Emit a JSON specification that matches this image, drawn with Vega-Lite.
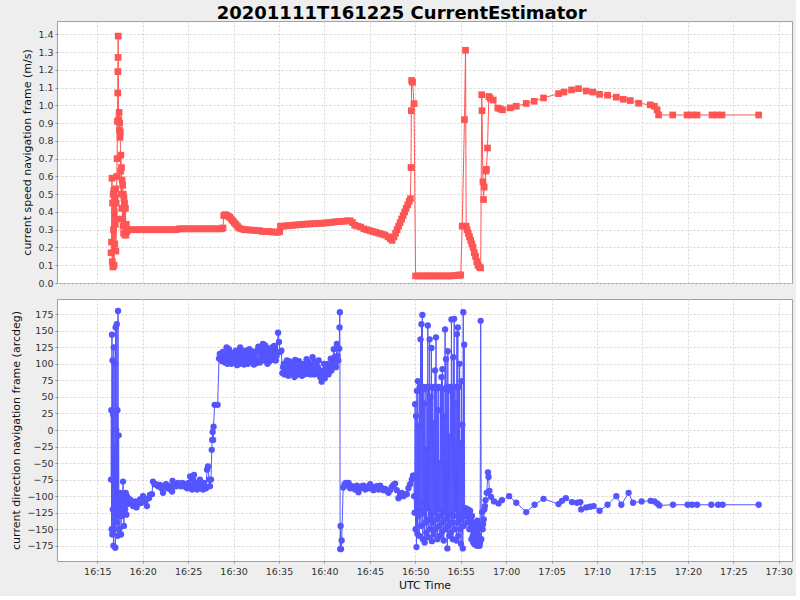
{
  "$schema": "https://vega.github.io/schema/vega-lite/v6.json",
  "title": {"text": "20201111T161225 CurrentEstimator", "font": "DejaVu Sans", "fontSize": 18, "fontWeight": "bold", "color": "black", "anchor": "middle", "offset": -2},
  "background": "#eeeeee",
  "padding": {"left": 10, "right": 3, "top": 4, "bottom": 5},
  "spacing": 10,
  "vconcat": [
    {
      "width": 735,
      "height": 262,
      "data": {
        "format": {"parse": {"t": "utc:'%H:%M:%S'"}},
        "values": [
          {"t": "16:16:31", "v": 0.17}, {"t": "16:16:34", "v": 0.23}, {"t": "16:16:37", "v": 0.59}, {"t": "16:16:39", "v": 0.12},
          {"t": "16:16:41", "v": 0.45}, {"t": "16:16:43", "v": 0.09}, {"t": "16:16:45", "v": 0.50}, {"t": "16:16:47", "v": 0.30},
          {"t": "16:16:49", "v": 0.52}, {"t": "16:16:51", "v": 0.10}, {"t": "16:16:53", "v": 0.40}, {"t": "16:16:55", "v": 0.22},
          {"t": "16:16:57", "v": 0.48}, {"t": "16:16:59", "v": 0.33}, {"t": "16:17:01", "v": 0.53}, {"t": "16:17:03", "v": 0.18},
          {"t": "16:17:05", "v": 0.45}, {"t": "16:17:07", "v": 0.36}, {"t": "16:17:09", "v": 0.60}, {"t": "16:17:11", "v": 0.70},
          {"t": "16:17:13", "v": 0.91}, {"t": "16:17:15", "v": 1.07}, {"t": "16:17:16", "v": 1.19}, {"t": "16:17:17", "v": 1.27},
          {"t": "16:17:18", "v": 1.39}, {"t": "16:17:21", "v": 0.92}, {"t": "16:17:24", "v": 0.96}, {"t": "16:17:26", "v": 0.86},
          {"t": "16:17:28", "v": 0.90}, {"t": "16:17:30", "v": 0.82}, {"t": "16:17:32", "v": 0.85}, {"t": "16:17:34", "v": 0.63},
          {"t": "16:17:36", "v": 0.72}, {"t": "16:17:38", "v": 0.50}, {"t": "16:17:40", "v": 0.65}, {"t": "16:17:42", "v": 0.42},
          {"t": "16:17:44", "v": 0.58}, {"t": "16:17:46", "v": 0.36}, {"t": "16:17:48", "v": 0.55}, {"t": "16:17:50", "v": 0.32},
          {"t": "16:17:52", "v": 0.50}, {"t": "16:17:54", "v": 0.28}, {"t": "16:17:56", "v": 0.48}, {"t": "16:17:58", "v": 0.33},
          {"t": "16:18:00", "v": 0.45}, {"t": "16:18:03", "v": 0.27}, {"t": "16:18:06", "v": 0.42}, {"t": "16:18:09", "v": 0.27},
          {"t": "16:18:12", "v": 0.33}, {"t": "16:18:16", "v": 0.29}, {"t": "16:18:22", "v": 0.30},
          {"t": "16:18:40", "v": 0.30}, {"t": "16:19:00", "v": 0.30}, {"t": "16:19:20", "v": 0.30}, {"t": "16:19:40", "v": 0.30},
          {"t": "16:20:00", "v": 0.30}, {"t": "16:20:20", "v": 0.30}, {"t": "16:20:40", "v": 0.30}, {"t": "16:21:00", "v": 0.30},
          {"t": "16:21:20", "v": 0.30}, {"t": "16:21:40", "v": 0.30}, {"t": "16:22:00", "v": 0.30}, {"t": "16:22:20", "v": 0.30},
          {"t": "16:22:40", "v": 0.30}, {"t": "16:23:00", "v": 0.30}, {"t": "16:23:20", "v": 0.30}, {"t": "16:23:40", "v": 0.30},
          {"t": "16:24:00", "v": 0.305}, {"t": "16:24:20", "v": 0.305}, {"t": "16:24:40", "v": 0.305}, {"t": "16:25:00", "v": 0.305},
          {"t": "16:25:20", "v": 0.305}, {"t": "16:25:40", "v": 0.305}, {"t": "16:26:00", "v": 0.305}, {"t": "16:26:20", "v": 0.305},
          {"t": "16:26:40", "v": 0.305}, {"t": "16:27:00", "v": 0.305}, {"t": "16:27:20", "v": 0.305}, {"t": "16:27:40", "v": 0.305},
          {"t": "16:28:00", "v": 0.305}, {"t": "16:28:20", "v": 0.305}, {"t": "16:28:40", "v": 0.305}, {"t": "16:28:50", "v": 0.31},
          {"t": "16:28:55", "v": 0.38}, {"t": "16:29:05", "v": 0.385}, {"t": "16:29:15", "v": 0.38}, {"t": "16:29:25", "v": 0.375},
          {"t": "16:29:35", "v": 0.37}, {"t": "16:29:45", "v": 0.36}, {"t": "16:29:55", "v": 0.35}, {"t": "16:30:05", "v": 0.34},
          {"t": "16:30:15", "v": 0.33}, {"t": "16:30:25", "v": 0.32}, {"t": "16:30:35", "v": 0.31}, {"t": "16:30:50", "v": 0.305},
          {"t": "16:31:10", "v": 0.30}, {"t": "16:31:30", "v": 0.30}, {"t": "16:31:50", "v": 0.298}, {"t": "16:32:10", "v": 0.297},
          {"t": "16:32:30", "v": 0.295}, {"t": "16:32:50", "v": 0.295}, {"t": "16:33:10", "v": 0.29}, {"t": "16:33:30", "v": 0.29},
          {"t": "16:33:50", "v": 0.29}, {"t": "16:34:10", "v": 0.288}, {"t": "16:34:30", "v": 0.287}, {"t": "16:34:50", "v": 0.285},
          {"t": "16:35:05", "v": 0.29}, {"t": "16:35:10", "v": 0.32}, {"t": "16:35:30", "v": 0.32}, {"t": "16:35:50", "v": 0.322},
          {"t": "16:36:10", "v": 0.324}, {"t": "16:36:30", "v": 0.325}, {"t": "16:36:50", "v": 0.327}, {"t": "16:37:10", "v": 0.328},
          {"t": "16:37:30", "v": 0.33}, {"t": "16:37:50", "v": 0.331}, {"t": "16:38:10", "v": 0.332}, {"t": "16:38:30", "v": 0.333},
          {"t": "16:38:50", "v": 0.334}, {"t": "16:39:10", "v": 0.335}, {"t": "16:39:30", "v": 0.336}, {"t": "16:39:50", "v": 0.337},
          {"t": "16:40:10", "v": 0.338}, {"t": "16:40:30", "v": 0.34}, {"t": "16:40:50", "v": 0.342}, {"t": "16:41:10", "v": 0.344},
          {"t": "16:41:30", "v": 0.346}, {"t": "16:41:50", "v": 0.347}, {"t": "16:42:10", "v": 0.348}, {"t": "16:42:30", "v": 0.35},
          {"t": "16:42:50", "v": 0.35}, {"t": "16:43:05", "v": 0.34}, {"t": "16:43:20", "v": 0.325}, {"t": "16:43:40", "v": 0.32},
          {"t": "16:44:00", "v": 0.315}, {"t": "16:44:20", "v": 0.305}, {"t": "16:44:40", "v": 0.30}, {"t": "16:45:00", "v": 0.295},
          {"t": "16:45:20", "v": 0.29}, {"t": "16:45:40", "v": 0.285}, {"t": "16:46:00", "v": 0.28}, {"t": "16:46:20", "v": 0.275},
          {"t": "16:46:40", "v": 0.27}, {"t": "16:47:00", "v": 0.26}, {"t": "16:47:15", "v": 0.25}, {"t": "16:47:27", "v": 0.24},
          {"t": "16:47:40", "v": 0.26}, {"t": "16:47:50", "v": 0.28}, {"t": "16:48:00", "v": 0.30}, {"t": "16:48:10", "v": 0.32},
          {"t": "16:48:20", "v": 0.34}, {"t": "16:48:30", "v": 0.36}, {"t": "16:48:40", "v": 0.38}, {"t": "16:48:50", "v": 0.40},
          {"t": "16:49:00", "v": 0.42}, {"t": "16:49:10", "v": 0.44}, {"t": "16:49:20", "v": 0.46}, {"t": "16:49:28", "v": 0.475},
          {"t": "16:49:32", "v": 0.65}, {"t": "16:49:34", "v": 0.97}, {"t": "16:49:36", "v": 1.14}, {"t": "16:49:42", "v": 1.13},
          {"t": "16:49:52", "v": 1.01}, {"t": "16:50:02", "v": 0.04}, {"t": "16:50:20", "v": 0.04}, {"t": "16:50:40", "v": 0.04},
          {"t": "16:51:00", "v": 0.04}, {"t": "16:51:20", "v": 0.04}, {"t": "16:51:40", "v": 0.04}, {"t": "16:52:00", "v": 0.04},
          {"t": "16:52:20", "v": 0.04}, {"t": "16:52:40", "v": 0.04}, {"t": "16:53:00", "v": 0.04}, {"t": "16:53:20", "v": 0.04},
          {"t": "16:53:40", "v": 0.04}, {"t": "16:54:00", "v": 0.04}, {"t": "16:54:20", "v": 0.042}, {"t": "16:54:40", "v": 0.043},
          {"t": "16:54:52", "v": 0.045}, {"t": "16:55:00", "v": 0.045}, {"t": "16:55:10", "v": 0.32}, {"t": "16:55:25", "v": 0.92},
          {"t": "16:55:32", "v": 1.31}, {"t": "16:55:36", "v": 0.32}, {"t": "16:55:42", "v": 0.30}, {"t": "16:55:50", "v": 0.28},
          {"t": "16:55:58", "v": 0.26}, {"t": "16:56:06", "v": 0.24}, {"t": "16:56:14", "v": 0.22}, {"t": "16:56:22", "v": 0.20},
          {"t": "16:56:30", "v": 0.17}, {"t": "16:56:38", "v": 0.15}, {"t": "16:56:46", "v": 0.12}, {"t": "16:56:54", "v": 0.10},
          {"t": "16:57:04", "v": 0.09}, {"t": "16:57:12", "v": 0.085}, {"t": "16:57:19", "v": 1.06}, {"t": "16:57:21", "v": 0.97},
          {"t": "16:57:27", "v": 0.57}, {"t": "16:57:31", "v": 0.47}, {"t": "16:57:35", "v": 0.54}, {"t": "16:57:47", "v": 0.63},
          {"t": "16:57:50", "v": 0.64}, {"t": "16:57:57", "v": 0.76}, {"t": "16:58:06", "v": 1.05}, {"t": "16:58:15", "v": 1.04},
          {"t": "16:58:35", "v": 1.03}, {"t": "16:59:05", "v": 0.985}, {"t": "16:59:21", "v": 0.98}, {"t": "16:59:36", "v": 0.975},
          {"t": "17:00:27", "v": 0.986}, {"t": "17:01:07", "v": 0.995}, {"t": "17:02:13", "v": 1.011}, {"t": "17:03:05", "v": 1.023},
          {"t": "17:04:07", "v": 1.042}, {"t": "17:05:46", "v": 1.066}, {"t": "17:06:22", "v": 1.075}, {"t": "17:07:12", "v": 1.087},
          {"t": "17:07:58", "v": 1.094}, {"t": "17:08:49", "v": 1.081}, {"t": "17:09:33", "v": 1.075}, {"t": "17:10:17", "v": 1.062},
          {"t": "17:11:10", "v": 1.057}, {"t": "17:12:08", "v": 1.046}, {"t": "17:12:54", "v": 1.034}, {"t": "17:13:40", "v": 1.027},
          {"t": "17:14:35", "v": 1.012}, {"t": "17:15:52", "v": 1.003}, {"t": "17:16:19", "v": 0.995}, {"t": "17:16:37", "v": 0.975},
          {"t": "17:16:47", "v": 0.946}, {"t": "17:18:20", "v": 0.946}, {"t": "17:19:55", "v": 0.946}, {"t": "17:20:28", "v": 0.946},
          {"t": "17:21:01", "v": 0.946}, {"t": "17:22:40", "v": 0.946}, {"t": "17:23:13", "v": 0.946}, {"t": "17:23:46", "v": 0.946},
          {"t": "17:27:48", "v": 0.946}
        ]
      },
      "mark": {"type": "line", "color": "#ff5555", "strokeWidth": 1, "point": {"shape": "square", "size": 45, "filled": true, "color": "#ff5555", "opacity": 1}},
      "encoding": {
        "x": {
          "field": "t", "type": "temporal",
          "scale": {"type": "utc", "nice": false, "domain": [-2208930566000, -2208925712000]},
          "axis": {"title": null, "labels": false, "ticks": false, "values": [-2208930300000, -2208930000000, -2208929700000, -2208929400000, -2208929100000, -2208928800000, -2208928500000, -2208928200000, -2208927900000, -2208927600000, -2208927300000, -2208927000000, -2208926700000, -2208926400000, -2208926100000, -2208925800000]}
        },
        "y": {
          "field": "v", "type": "quantitative",
          "scale": {"domain": [0, 1.475], "nice": false, "zero": false},
          "axis": {"title": "current speed navigation frame (m/s)", "format": ".1f", "values": [0, 0.1, 0.2, 0.3, 0.4, 0.5, 0.6, 0.7, 0.8, 0.9, 1.0, 1.1, 1.2, 1.3, 1.4]}
        }
      }
    },
    {
      "width": 735,
      "height": 262,
      "data": {
        "format": {"parse": {"t": "utc:'%H:%M:%S'"}},
        "values": [
          {"t": "16:16:31", "v": -75}, {"t": "16:16:33", "v": 30}, {"t": "16:16:35", "v": -150}, {"t": "16:16:37", "v": 144},
          {"t": "16:16:39", "v": -158}, {"t": "16:16:41", "v": 105}, {"t": "16:16:43", "v": -120}, {"t": "16:16:45", "v": 23},
          {"t": "16:16:47", "v": -175}, {"t": "16:16:49", "v": 125}, {"t": "16:16:51", "v": -110}, {"t": "16:16:53", "v": -27},
          {"t": "16:16:55", "v": -150}, {"t": "16:16:57", "v": 100}, {"t": "16:16:59", "v": -178}, {"t": "16:17:01", "v": 155},
          {"t": "16:17:03", "v": -125}, {"t": "16:17:05", "v": 0}, {"t": "16:17:07", "v": -140}, {"t": "16:17:09", "v": 160},
          {"t": "16:17:11", "v": -100}, {"t": "16:17:13", "v": 30}, {"t": "16:17:15", "v": -160}, {"t": "16:17:17", "v": 180},
          {"t": "16:17:19", "v": -130}, {"t": "16:17:21", "v": -8}, {"t": "16:17:23", "v": -115}, {"t": "16:17:25", "v": -150},
          {"t": "16:17:27", "v": -105}, {"t": "16:17:30", "v": -125}, {"t": "16:17:33", "v": -95}, {"t": "16:17:37", "v": -158},
          {"t": "16:17:40", "v": -110}, {"t": "16:17:43", "v": -130}, {"t": "16:17:47", "v": -100}, {"t": "16:17:50", "v": -78},
          {"t": "16:17:53", "v": -115}, {"t": "16:17:56", "v": -145}, {"t": "16:18:00", "v": -105}, {"t": "16:18:04", "v": -120},
          {"t": "16:18:08", "v": -95}, {"t": "16:18:12", "v": -128}, {"t": "16:18:16", "v": -100}, {"t": "16:18:20", "v": -112},
          {"t": "16:18:25", "v": -104}, {"t": "16:18:36", "v": -105}, {"t": "16:18:46", "v": -110}, {"t": "16:18:56", "v": -115},
          {"t": "16:19:09", "v": -108}, {"t": "16:19:19", "v": -117}, {"t": "16:19:29", "v": -112}, {"t": "16:19:42", "v": -105},
          {"t": "16:19:52", "v": -110}, {"t": "16:20:02", "v": -100}, {"t": "16:20:15", "v": -108}, {"t": "16:20:28", "v": -115},
          {"t": "16:20:41", "v": -103}, {"t": "16:20:48", "v": -98}, {"t": "16:21:01", "v": -97}, {"t": "16:21:08", "v": -78},
          {"t": "16:21:18", "v": -82}, {"t": "16:21:28", "v": -82}, {"t": "16:21:41", "v": -85}, {"t": "16:21:54", "v": -83},
          {"t": "16:22:04", "v": -88}, {"t": "16:22:14", "v": -95}, {"t": "16:22:24", "v": -85}, {"t": "16:22:34", "v": -82},
          {"t": "16:22:44", "v": -88}, {"t": "16:22:54", "v": -85}, {"t": "16:23:04", "v": -90}, {"t": "16:23:14", "v": -93},
          {"t": "16:23:17", "v": -77}, {"t": "16:23:25", "v": -85}, {"t": "16:23:33", "v": -82}, {"t": "16:23:43", "v": -85},
          {"t": "16:23:53", "v": -80}, {"t": "16:24:03", "v": -83}, {"t": "16:24:13", "v": -85}, {"t": "16:24:23", "v": -80},
          {"t": "16:24:33", "v": -82}, {"t": "16:24:43", "v": -86}, {"t": "16:24:53", "v": -88}, {"t": "16:25:03", "v": -80},
          {"t": "16:25:13", "v": -70}, {"t": "16:25:20", "v": -85}, {"t": "16:25:26", "v": -90}, {"t": "16:25:33", "v": -75},
          {"t": "16:25:39", "v": -68}, {"t": "16:25:46", "v": -85}, {"t": "16:25:52", "v": -80}, {"t": "16:25:59", "v": -90},
          {"t": "16:26:05", "v": -88}, {"t": "16:26:12", "v": -80}, {"t": "16:26:18", "v": -75}, {"t": "16:26:25", "v": -88},
          {"t": "16:26:31", "v": -85}, {"t": "16:26:38", "v": -90}, {"t": "16:26:44", "v": -80}, {"t": "16:26:51", "v": -85},
          {"t": "16:26:58", "v": -88}, {"t": "16:27:05", "v": -60}, {"t": "16:27:11", "v": -55}, {"t": "16:27:18", "v": -75},
          {"t": "16:27:24", "v": -85}, {"t": "16:27:31", "v": -75}, {"t": "16:27:36", "v": -30}, {"t": "16:27:39", "v": -15},
          {"t": "16:27:42", "v": -3}, {"t": "16:27:45", "v": -15}, {"t": "16:27:48", "v": 5}, {"t": "16:27:55", "v": 38},
          {"t": "16:28:15", "v": 38}, {"t": "16:28:24", "v": 108}, {"t": "16:28:34", "v": 112}, {"t": "16:28:44", "v": 104},
          {"t": "16:28:54", "v": 110}, {"t": "16:29:04", "v": 102}, {"t": "16:29:14", "v": 125}, {"t": "16:29:24", "v": 105},
          {"t": "16:29:34", "v": 118}, {"t": "16:29:44", "v": 100}, {"t": "16:29:54", "v": 112}, {"t": "16:30:04", "v": 103},
          {"t": "16:30:14", "v": 120}, {"t": "16:30:24", "v": 98}, {"t": "16:30:34", "v": 108}, {"t": "16:30:44", "v": 125},
          {"t": "16:30:54", "v": 101}, {"t": "16:31:04", "v": 110}, {"t": "16:31:14", "v": 104}, {"t": "16:31:24", "v": 115},
          {"t": "16:31:34", "v": 100}, {"t": "16:31:44", "v": 122}, {"t": "16:31:54", "v": 106}, {"t": "16:32:04", "v": 112},
          {"t": "16:32:14", "v": 99}, {"t": "16:32:24", "v": 118}, {"t": "16:32:34", "v": 104}, {"t": "16:32:44", "v": 126},
          {"t": "16:32:54", "v": 102}, {"t": "16:33:04", "v": 115}, {"t": "16:33:14", "v": 130}, {"t": "16:33:24", "v": 105},
          {"t": "16:33:34", "v": 120}, {"t": "16:33:44", "v": 100}, {"t": "16:33:54", "v": 118}, {"t": "16:34:04", "v": 108},
          {"t": "16:34:14", "v": 125}, {"t": "16:34:24", "v": 106}, {"t": "16:34:34", "v": 120}, {"t": "16:34:44", "v": 112},
          {"t": "16:28:29", "v": 115}, {"t": "16:28:39", "v": 106}, {"t": "16:28:49", "v": 118}, {"t": "16:28:59", "v": 104},
          {"t": "16:29:09", "v": 113}, {"t": "16:29:19", "v": 100}, {"t": "16:29:29", "v": 122}, {"t": "16:29:39", "v": 107},
          {"t": "16:29:49", "v": 116}, {"t": "16:29:59", "v": 101}, {"t": "16:30:09", "v": 110}, {"t": "16:30:19", "v": 104},
          {"t": "16:30:29", "v": 117}, {"t": "16:30:39", "v": 100}, {"t": "16:30:49", "v": 112}, {"t": "16:30:59", "v": 118},
          {"t": "16:31:09", "v": 99}, {"t": "16:31:19", "v": 120}, {"t": "16:31:29", "v": 106}, {"t": "16:31:39", "v": 113},
          {"t": "16:31:49", "v": 103}, {"t": "16:31:59", "v": 119}, {"t": "16:32:09", "v": 108}, {"t": "16:32:19", "v": 114},
          {"t": "16:32:29", "v": 101}, {"t": "16:32:39", "v": 121}, {"t": "16:32:49", "v": 107}, {"t": "16:32:59", "v": 124},
          {"t": "16:33:09", "v": 110}, {"t": "16:33:19", "v": 117}, {"t": "16:33:29", "v": 128}, {"t": "16:33:39", "v": 109},
          {"t": "16:33:49", "v": 123}, {"t": "16:33:59", "v": 104}, {"t": "16:34:09", "v": 116}, {"t": "16:34:19", "v": 110},
          {"t": "16:34:29", "v": 127}, {"t": "16:34:39", "v": 105}, {"t": "16:34:49", "v": 118},
          {"t": "16:34:54", "v": 147}, {"t": "16:35:00", "v": 133}, {"t": "16:35:08", "v": 118}, {"t": "16:35:16", "v": 120},
          {"t": "16:35:22", "v": 86}, {"t": "16:35:32", "v": 100}, {"t": "16:35:42", "v": 90}, {"t": "16:35:52", "v": 105},
          {"t": "16:36:02", "v": 82}, {"t": "16:36:12", "v": 98}, {"t": "16:36:22", "v": 88}, {"t": "16:36:32", "v": 102},
          {"t": "16:36:42", "v": 80}, {"t": "16:36:52", "v": 95}, {"t": "16:37:02", "v": 86}, {"t": "16:37:12", "v": 104},
          {"t": "16:37:22", "v": 90}, {"t": "16:37:32", "v": 82}, {"t": "16:37:42", "v": 100}, {"t": "16:37:52", "v": 88},
          {"t": "16:38:02", "v": 107}, {"t": "16:38:12", "v": 85}, {"t": "16:38:22", "v": 96}, {"t": "16:38:32", "v": 90},
          {"t": "16:38:42", "v": 110}, {"t": "16:38:52", "v": 84}, {"t": "16:39:02", "v": 98}, {"t": "16:39:12", "v": 88},
          {"t": "16:39:22", "v": 105}, {"t": "16:39:32", "v": 80}, {"t": "16:39:42", "v": 73}, {"t": "16:39:52", "v": 90},
          {"t": "16:40:02", "v": 78}, {"t": "16:40:12", "v": 95}, {"t": "16:40:22", "v": 100}, {"t": "16:40:32", "v": 88},
          {"t": "16:40:42", "v": 108}, {"t": "16:40:52", "v": 96}, {"t": "16:41:02", "v": 122}, {"t": "16:41:12", "v": 100},
          {"t": "16:41:22", "v": 130}, {"t": "16:41:32", "v": 105},
          {"t": "16:35:27", "v": 95}, {"t": "16:35:37", "v": 84}, {"t": "16:35:47", "v": 98}, {"t": "16:35:57", "v": 92},
          {"t": "16:36:07", "v": 104}, {"t": "16:36:17", "v": 85}, {"t": "16:36:27", "v": 95}, {"t": "16:36:37", "v": 90},
          {"t": "16:36:47", "v": 106}, {"t": "16:36:57", "v": 83}, {"t": "16:37:07", "v": 97}, {"t": "16:37:17", "v": 85},
          {"t": "16:37:27", "v": 99}, {"t": "16:37:37", "v": 93}, {"t": "16:37:47", "v": 84}, {"t": "16:37:57", "v": 96},
          {"t": "16:38:07", "v": 90}, {"t": "16:38:17", "v": 102}, {"t": "16:38:27", "v": 84}, {"t": "16:38:37", "v": 98},
          {"t": "16:38:47", "v": 92}, {"t": "16:38:57", "v": 103}, {"t": "16:39:07", "v": 85}, {"t": "16:39:17", "v": 95},
          {"t": "16:39:27", "v": 90}, {"t": "16:39:37", "v": 85}, {"t": "16:39:47", "v": 82}, {"t": "16:39:57", "v": 100},
          {"t": "16:40:07", "v": 86}, {"t": "16:40:17", "v": 92}, {"t": "16:40:27", "v": 84}, {"t": "16:40:37", "v": 98},
          {"t": "16:40:47", "v": 90}, {"t": "16:40:57", "v": 104}, {"t": "16:41:07", "v": 110}, {"t": "16:41:17", "v": 95},
          {"t": "16:41:27", "v": 112},
          {"t": "16:41:38", "v": 123}, {"t": "16:41:40", "v": 155},
          {"t": "16:41:42", "v": 178}, {"t": "16:41:44", "v": -180}, {"t": "16:41:47", "v": -145}, {"t": "16:41:50", "v": -180},
          {"t": "16:41:54", "v": -167}, {"t": "16:42:04", "v": -87}, {"t": "16:42:13", "v": -82}, {"t": "16:42:22", "v": -80},
          {"t": "16:42:31", "v": -84}, {"t": "16:42:40", "v": -80}, {"t": "16:42:50", "v": -88}, {"t": "16:43:00", "v": -85},
          {"t": "16:43:11", "v": -86}, {"t": "16:43:22", "v": -90}, {"t": "16:43:34", "v": -84}, {"t": "16:43:45", "v": -94},
          {"t": "16:43:56", "v": -88}, {"t": "16:44:07", "v": -85}, {"t": "16:44:18", "v": -84}, {"t": "16:44:30", "v": -90},
          {"t": "16:44:41", "v": -86}, {"t": "16:44:52", "v": -88}, {"t": "16:45:02", "v": -82}, {"t": "16:45:13", "v": -86},
          {"t": "16:45:24", "v": -91}, {"t": "16:45:35", "v": -87}, {"t": "16:45:46", "v": -85}, {"t": "16:45:57", "v": -90},
          {"t": "16:46:08", "v": -84}, {"t": "16:46:19", "v": -88}, {"t": "16:46:30", "v": -91}, {"t": "16:46:41", "v": -89},
          {"t": "16:46:52", "v": -92}, {"t": "16:47:03", "v": -95}, {"t": "16:47:14", "v": -91}, {"t": "16:47:25", "v": -86},
          {"t": "16:47:36", "v": -83}, {"t": "16:47:47", "v": -81}, {"t": "16:47:58", "v": -91}, {"t": "16:48:09", "v": -103},
          {"t": "16:48:20", "v": -98}, {"t": "16:48:31", "v": -95}, {"t": "16:48:42", "v": -100}, {"t": "16:48:53", "v": -97},
          {"t": "16:49:04", "v": -97}, {"t": "16:49:15", "v": -88}, {"t": "16:49:26", "v": -82}, {"t": "16:49:37", "v": -75},
          {"t": "16:49:45", "v": -69}, {"t": "16:49:50", "v": -69}, {"t": "16:49:53", "v": -100}, {"t": "16:49:56", "v": -125},
          {"t": "16:49:59", "v": 39}, {"t": "16:50:02", "v": -150}, {"t": "16:50:05", "v": 21}, {"t": "16:50:08", "v": -177},
          {"t": "16:50:11", "v": 59}, {"t": "16:50:14", "v": -157}, {"t": "16:50:17", "v": 74}, {"t": "16:50:20", "v": -130},
          {"t": "16:50:23", "v": 6}, {"t": "16:50:26", "v": -160}, {"t": "16:50:29", "v": 65}, {"t": "16:50:32", "v": -120},
          {"t": "16:50:35", "v": 137}, {"t": "16:50:38", "v": -145}, {"t": "16:50:41", "v": 160}, {"t": "16:50:44", "v": -110},
          {"t": "16:50:47", "v": 174}, {"t": "16:50:50", "v": -165}, {"t": "16:50:53", "v": 65}, {"t": "16:50:56", "v": -126},
          {"t": "16:50:59", "v": 40}, {"t": "16:51:02", "v": -170}, {"t": "16:51:05", "v": 62}, {"t": "16:51:08", "v": -140},
          {"t": "16:51:11", "v": -30}, {"t": "16:51:14", "v": -155}, {"t": "16:51:17", "v": 65}, {"t": "16:51:20", "v": -118},
          {"t": "16:51:23", "v": 158}, {"t": "16:51:26", "v": -162}, {"t": "16:51:29", "v": 65}, {"t": "16:51:32", "v": -135},
          {"t": "16:51:35", "v": 137}, {"t": "16:51:38", "v": -150}, {"t": "16:51:41", "v": 50}, {"t": "16:51:44", "v": -128},
          {"t": "16:51:47", "v": 124}, {"t": "16:51:50", "v": -168}, {"t": "16:51:53", "v": 64}, {"t": "16:51:56", "v": -140},
          {"t": "16:51:59", "v": 10}, {"t": "16:52:02", "v": -158}, {"t": "16:52:05", "v": 65}, {"t": "16:52:08", "v": -125},
          {"t": "16:52:11", "v": 90}, {"t": "16:52:14", "v": -150}, {"t": "16:52:17", "v": 140}, {"t": "16:52:20", "v": -135},
          {"t": "16:52:23", "v": 63}, {"t": "16:52:26", "v": -165}, {"t": "16:52:29", "v": 30}, {"t": "16:52:32", "v": -120},
          {"t": "16:52:35", "v": 65}, {"t": "16:52:38", "v": -145}, {"t": "16:52:41", "v": -50}, {"t": "16:52:44", "v": -160},
          {"t": "16:52:47", "v": 64}, {"t": "16:52:50", "v": -130}, {"t": "16:52:53", "v": 80}, {"t": "16:52:56", "v": -154},
          {"t": "16:52:59", "v": 92}, {"t": "16:53:02", "v": -140}, {"t": "16:53:05", "v": 62}, {"t": "16:53:08", "v": -167},
          {"t": "16:53:11", "v": 20}, {"t": "16:53:14", "v": -125}, {"t": "16:53:17", "v": 152}, {"t": "16:53:20", "v": -150},
          {"t": "16:53:23", "v": 107}, {"t": "16:53:26", "v": -135}, {"t": "16:53:29", "v": 65}, {"t": "16:53:32", "v": -179},
          {"t": "16:53:35", "v": 119}, {"t": "16:53:38", "v": -145}, {"t": "16:53:41", "v": 60}, {"t": "16:53:44", "v": -160},
          {"t": "16:53:47", "v": -10}, {"t": "16:53:50", "v": -128}, {"t": "16:53:53", "v": 65}, {"t": "16:53:56", "v": -155},
          {"t": "16:53:59", "v": 167}, {"t": "16:54:02", "v": -140}, {"t": "16:54:05", "v": 64}, {"t": "16:54:08", "v": -165},
          {"t": "16:54:11", "v": 110}, {"t": "16:54:14", "v": -130}, {"t": "16:54:17", "v": 168}, {"t": "16:54:20", "v": -150},
          {"t": "16:54:23", "v": 65}, {"t": "16:54:26", "v": -120}, {"t": "16:54:29", "v": 40}, {"t": "16:54:32", "v": -167},
          {"t": "16:54:35", "v": 145}, {"t": "16:54:38", "v": -140}, {"t": "16:54:41", "v": 155}, {"t": "16:54:44", "v": -160},
          {"t": "16:54:47", "v": 65}, {"t": "16:54:50", "v": -130}, {"t": "16:54:53", "v": 100}, {"t": "16:54:56", "v": -150},
          {"t": "16:54:59", "v": -20}, {"t": "16:55:02", "v": -172}, {"t": "16:55:05", "v": 74}, {"t": "16:55:08", "v": -135},
          {"t": "16:55:11", "v": 8}, {"t": "16:55:14", "v": -179}, {"t": "16:55:17", "v": 178}, {"t": "16:55:20", "v": -145},
          {"t": "16:55:23", "v": 129}, {"t": "16:55:26", "v": -120}, {"t": "16:55:29", "v": -130}, {"t": "16:55:32", "v": -118},
          {"t": "16:55:40", "v": -125}, {"t": "16:55:48", "v": -120}, {"t": "16:55:55", "v": -135}, {"t": "16:56:02", "v": -122},
          {"t": "16:56:08", "v": -148}, {"t": "16:56:14", "v": -130}, {"t": "16:56:20", "v": -160}, {"t": "16:56:26", "v": -140},
          {"t": "16:56:32", "v": -173}, {"t": "16:56:38", "v": -150}, {"t": "16:56:44", "v": -162}, {"t": "16:56:50", "v": -137},
          {"t": "16:56:56", "v": -170}, {"t": "16:57:02", "v": -145}, {"t": "16:57:08", "v": -170}, {"t": "16:57:12", "v": 165},
          {"t": "16:55:44", "v": -140}, {"t": "16:55:51", "v": -128}, {"t": "16:55:58", "v": -150}, {"t": "16:56:05", "v": -135},
          {"t": "16:56:11", "v": -165}, {"t": "16:56:17", "v": -145}, {"t": "16:56:23", "v": -170}, {"t": "16:56:29", "v": -155},
          {"t": "16:56:35", "v": -165}, {"t": "16:56:41", "v": -140}, {"t": "16:56:47", "v": -175}, {"t": "16:56:53", "v": -150},
          {"t": "16:56:59", "v": -160}, {"t": "16:57:05", "v": -175}, {"t": "16:57:25", "v": -150}, {"t": "16:57:32", "v": -135},
          {"t": "16:57:40", "v": -115},
          {"t": "16:57:16", "v": -165}, {"t": "16:57:22", "v": -124}, {"t": "16:57:28", "v": -142}, {"t": "16:57:36", "v": -120},
          {"t": "16:57:44", "v": -106}, {"t": "16:57:52", "v": -95}, {"t": "16:58:00", "v": -64}, {"t": "16:58:04", "v": -71},
          {"t": "16:58:10", "v": -92}, {"t": "16:58:20", "v": -101}, {"t": "16:58:40", "v": -108}, {"t": "16:59:10", "v": -111},
          {"t": "16:59:32", "v": -106}, {"t": "17:00:20", "v": -100}, {"t": "17:01:07", "v": -110}, {"t": "17:02:13", "v": -124},
          {"t": "17:03:08", "v": -113}, {"t": "17:04:07", "v": -104}, {"t": "17:05:46", "v": -112}, {"t": "17:06:09", "v": -107},
          {"t": "17:06:35", "v": -103}, {"t": "17:07:15", "v": -109}, {"t": "17:07:48", "v": -110}, {"t": "17:08:10", "v": -109},
          {"t": "17:08:16", "v": -120}, {"t": "17:08:49", "v": -117}, {"t": "17:09:15", "v": -116}, {"t": "17:09:38", "v": -115},
          {"t": "17:10:17", "v": -122}, {"t": "17:11:10", "v": -113}, {"t": "17:12:08", "v": -100}, {"t": "17:12:41", "v": -113},
          {"t": "17:13:29", "v": -95}, {"t": "17:13:58", "v": -110}, {"t": "17:14:55", "v": -108}, {"t": "17:15:54", "v": -107},
          {"t": "17:16:19", "v": -108}, {"t": "17:16:38", "v": -111}, {"t": "17:16:52", "v": -114}, {"t": "17:18:22", "v": -113},
          {"t": "17:19:59", "v": -113}, {"t": "17:20:28", "v": -113}, {"t": "17:21:01", "v": -113}, {"t": "17:22:35", "v": -113},
          {"t": "17:23:20", "v": -113}, {"t": "17:23:50", "v": -113}, {"t": "17:27:48", "v": -113}
        ]
      },
      "mark": {"type": "line", "color": "#5555ff", "strokeWidth": 1, "point": {"shape": "circle", "size": 40, "filled": true, "color": "#5555ff", "opacity": 1}},
      "encoding": {
        "x": {
          "field": "t", "type": "temporal",
          "scale": {"type": "utc", "nice": false, "domain": [-2208930566000, -2208925712000]},
          "axis": {"title": "UTC Time", "format": "%H:%M", "labelPadding": 3, "titlePadding": 4, "values": [-2208930300000, -2208930000000, -2208929700000, -2208929400000, -2208929100000, -2208928800000, -2208928500000, -2208928200000, -2208927900000, -2208927600000, -2208927300000, -2208927000000, -2208926700000, -2208926400000, -2208926100000, -2208925800000]}
        },
        "y": {
          "field": "v", "type": "quantitative",
          "scale": {"domain": [-198, 198], "nice": false, "zero": false},
          "axis": {"title": "current direction navigation frame (arcdeg)", "values": [-175, -150, -125, -100, -75, -50, -25, 0, 25, 50, 75, 100, 125, 150, 175]}
        }
      }
    }
  ],
  "config": {
    "view": {"fill": "white", "stroke": "#a0a0a0", "strokeWidth": 1},
    "axis": {
      "domain": false,
      "grid": true,
      "gridColor": "#d6d6d6",
      "gridDash": [2, 2],
      "gridWidth": 1,
      "tickColor": "#888888",
      "tickSize": 2,
      "labelFont": "DejaVu Sans",
      "labelFontSize": 9.5,
      "labelColor": "#333333",
      "labelPadding": 2,
      "titleFont": "DejaVu Sans",
      "titleFontSize": 11,
      "titleFontWeight": "normal",
      "titleColor": "#111111",
      "titlePadding": 5
    }
  }
}
